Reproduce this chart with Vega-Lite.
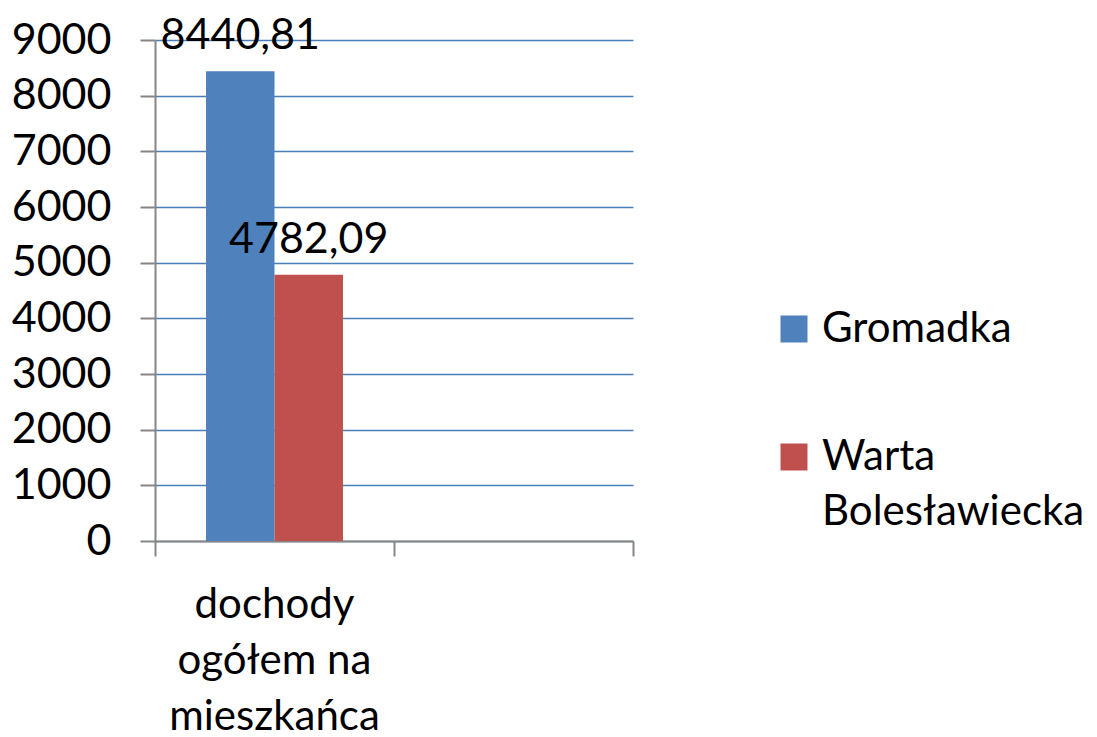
{
  "$schema": "https://vega.github.io/schema/vega-lite/v6.json",
  "autosize": {"type": "none"},
  "padding": {"left": 155, "top": 40, "right": 464, "bottom": 196},
  "width": 478,
  "height": 501,
  "background": "white",
  "config": {
    "font": "Lato",
    "view": {"stroke": null},
    "style": {"guide-label": {"lineHeight": 55}},
    "locale": {"number": {"decimal": ",", "thousands": "", "grouping": [3], "currency": ["", ""]}}
  },
  "data": {
    "values": [
      {"kategoria": "dochody ogółem na mieszkańca", "gmina": "Gromadka", "wartosc": 8440.81},
      {"kategoria": "dochody ogółem na mieszkańca", "gmina": "Warta Bolesławiecka", "wartosc": 4782.09}
    ]
  },
  "encoding": {
    "xOffset": {
      "field": "gmina",
      "type": "nominal",
      "scale": {"paddingInner": 0, "paddingOuter": 0.745}
    },
    "y": {
      "field": "wartosc",
      "type": "quantitative",
      "scale": {"domain": [0, 9000], "nice": false},
      "axis": {
        "title": null,
        "values": [0, 1000, 2000, 3000, 4000, 5000, 6000, 7000, 8000, 9000],
        "format": "d",
        "labelFontSize": 43,
        "labelColor": "#000000",
        "labelFont": "Lato",
        "labelPadding": 29,
        "tickSize": 15,
        "tickColor": "#868686",
        "tickWidth": 2,
        "domainColor": "#868686",
        "domainWidth": 2,
        "grid": true,
        "gridColor": "#4a7ebb",
        "gridWidth": 1.5
      }
    }
  },
  "resolve": {"axis": {"x": "independent"}},
  "layer": [
    {
      "mark": {"type": "bar"},
      "encoding": {
        "x": {
          "field": "kategoria",
          "type": "nominal",
          "scale": {"domain": ["dochody ogółem na mieszkańca", "(puste)"], "paddingInner": 0, "paddingOuter": 0},
          "axis": {
            "orient": "bottom",
            "title": null,
            "labels": false,
            "tickBand": "extent",
            "tickSize": 15,
            "tickColor": "#868686",
            "tickWidth": 2,
            "domainColor": "#868686",
            "domainWidth": 2,
            "grid": false
          }
        },
        "color": {
          "field": "gmina",
          "type": "nominal",
          "scale": {"domain": ["Gromadka", "Warta Bolesławiecka"], "range": ["#4f81bd", "#c0504d"]},
          "legend": {
            "title": null,
            "orient": "none",
            "legendX": 618,
            "legendY": 268,
            "symbolType": "square",
            "symbolSize": 729,
            "symbolStrokeWidth": 0,
            "labelFontSize": 42,
            "labelFont": "Lato",
            "labelColor": "#000000",
            "labelOffset": 7,
            "labelLimit": 400,
            "rowPadding": 86,
            "labelExpr": "datum.value == 'Warta Bolesławiecka' ? ['Warta', 'Bolesławiecka'] : datum.value"
          }
        }
      }
    },
    {
      "mark": {"type": "text", "fontSize": 43, "font": "Lato", "color": "#000000", "baseline": "alphabetic", "dy": -22},
      "encoding": {
        "x": {
          "field": "kategoria",
          "type": "nominal",
          "scale": {"domain": ["dochody ogółem na mieszkańca", "(puste)"], "paddingInner": 0, "paddingOuter": 0},
          "axis": {
            "orient": "bottom",
            "title": null,
            "labelAngle": 0,
            "labelExpr": "datum.value == '(puste)' ? '' : ['dochody', 'ogółem na', 'mieszkańca']",
            "labelFontSize": 42,
            "labelColor": "#000000",
            "labelFont": "Lato",
            "labelLineHeight": 56,
            "labelBaseline": "alphabetic",
            "labelPadding": 76,
            "labelLimit": 0,
            "ticks": false,
            "domain": false,
            "grid": false
          }
        },
        "text": {"field": "wartosc", "type": "quantitative", "format": ".2f"}
      }
    }
  ]
}
